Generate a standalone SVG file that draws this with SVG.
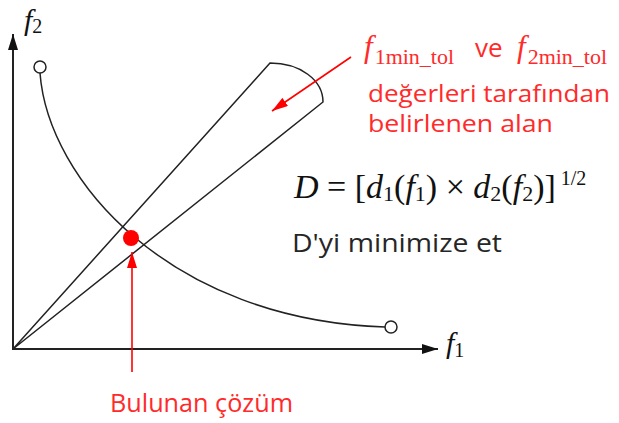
<svg xmlns="http://www.w3.org/2000/svg" width="619" height="423" viewBox="0 0 619 423">
<style>
.ax{stroke:#222;stroke-width:2;fill:none}
.ln{stroke:#222;stroke-width:1.5;fill:none}
.red{stroke:#ff0000;stroke-width:1.6;fill:none}
.math{font-family:"Liberation Serif","Times New Roman",serif;fill:#111}
.it{font-style:italic}
.up{font-style:normal}
.sans{font-family:"Open Sans","Liberation Sans",sans-serif}
.rt{fill:#ff2a2a}
.dk{fill:#262626}
</style>
<defs>
<marker id="ah" markerUnits="userSpaceOnUse" markerWidth="16" markerHeight="10" refX="16" refY="5" orient="auto">
<path d="M0,0 L16,5 L0,10 z" fill="#111"/>
</marker>
<marker id="rah" markerUnits="userSpaceOnUse" markerWidth="16" markerHeight="10" refX="16" refY="5" orient="auto">
<path d="M0,0 L16,5 L0,10 z" fill="#ff0000"/>
</marker>
</defs>
<rect width="619" height="423" fill="#fff"/>
<g id="axes">
<line class="ax" x1="13" y1="350" x2="13" y2="34" marker-end="url(#ah)"/>
<line class="ax" x1="12" y1="349" x2="438" y2="349" marker-end="url(#ah)"/>
<text class="math it" x="24" y="30" font-size="30">f<tspan class="up" font-size="20" dy="3">2</tspan></text>
<text class="math it" x="446" y="353" font-size="30">f<tspan class="up" font-size="20" dy="4">1</tspan></text>
</g>
<g id="region">
<path class="ln" d="M13,349 L270,63 C300,63 323,80 323,102 Z"/>
</g>
<g id="pareto-curve">
<path class="ln" d="M40,73 C48,180 170,320 385,327"/>
<circle cx="40" cy="67" r="6" fill="#fff" stroke="#222" stroke-width="1.5"/>
<circle cx="391" cy="327" r="6" fill="#fff" stroke="#222" stroke-width="1.5"/>
</g>
<g id="solution">
<circle cx="131" cy="238" r="8" fill="#ff0000"/>
</g>
<g id="connectors">
<line class="red" x1="351" y1="57" x2="272" y2="111" marker-end="url(#rah)"/>
<line class="red" x1="132" y1="372" x2="132" y2="252" marker-end="url(#rah)"/>
</g>
<g id="region-label">
<text class="math it rt" x="364" y="57" font-size="31">f<tspan class="up" font-size="22" dx="2" dy="7">1min_tol</tspan></text>
<text class="sans rt" x="475" y="57" font-size="26">ve</text>
<text class="math it rt" x="517" y="57" font-size="31">f<tspan class="up" font-size="22" dx="2" dy="7">2min_tol</tspan></text>
<text class="sans rt" x="368" y="102" font-size="24" textLength="242" lengthAdjust="spacingAndGlyphs">değerleri tarafından</text>
<text class="sans rt" x="368" y="132" font-size="24" textLength="185" lengthAdjust="spacingAndGlyphs">belirlenen alan</text>
</g>
<g id="formula">
<text class="math" x="294" y="198" font-size="34"><tspan class="it">D</tspan> = [<tspan class="it">d</tspan><tspan font-size="22" dy="3">1</tspan><tspan dy="-3">(</tspan><tspan class="it">f</tspan><tspan font-size="22" dy="3">1</tspan><tspan dy="-3">) × </tspan><tspan class="it">d</tspan><tspan font-size="22" dy="3">2</tspan><tspan dy="-3">(</tspan><tspan class="it">f</tspan><tspan font-size="22" dy="3">2</tspan><tspan dy="-3">)]</tspan><tspan font-size="20" dx="5" dy="-13">1/2</tspan></text>
<text class="sans dk" x="292" y="252" font-size="26" textLength="210" lengthAdjust="spacingAndGlyphs">D'yi minimize et</text>
</g>
<g id="solution-label">
<text class="sans rt" x="110" y="412" font-size="26" textLength="183" lengthAdjust="spacingAndGlyphs">Bulunan çözüm</text>
</g>
</svg>
